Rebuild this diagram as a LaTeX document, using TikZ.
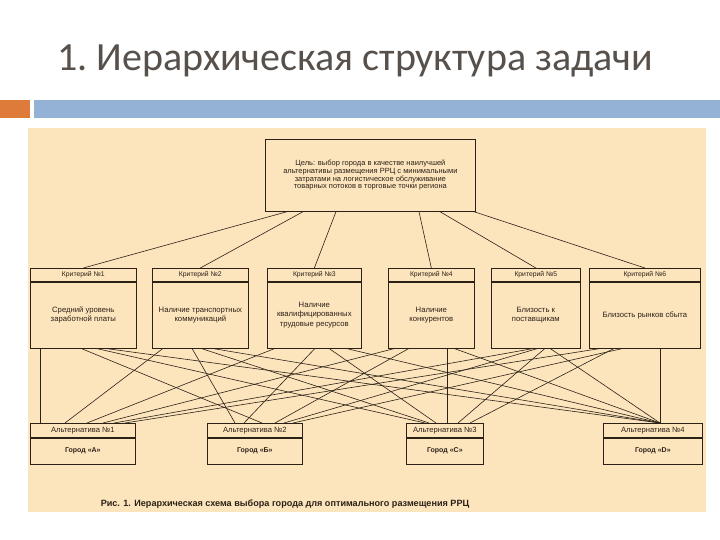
\documentclass[tikz,border=0pt]{standalone}
\usepackage{fontspec}
\setmainfont{Carlito}
\newfontfamily\figfont{Liberation Sans}
\usetikzlibrary{positioning,calc}
\definecolor{paper}{HTML}{FCE4BD}
\definecolor{ink}{HTML}{2B2117}
\definecolor{headgray}{HTML}{57504B}
\definecolor{barorange}{HTML}{DE7B3A}
\definecolor{barblue}{HTML}{94B2D6}
\tikzset{
  box/.style={draw=ink,fill=paper,line width=.7pt,inner sep=1pt,align=center,
    text=ink,font=\figfont\fontsize{6.8}{8}\selectfont},
  head/.style={box,anchor=north west},
  critbody/.style={box,minimum height=66pt,font=\figfont\fontsize{7.7}{9.2}\selectfont},
  altbody/.style={box,minimum height=26pt,font=\figfont\bfseries\fontsize{7}{8.6}\selectfont},
  link/.style={ink,line width=.6pt}
}

\begin{document}
\begin{tikzpicture}[x=1pt,y=-1pt]
  \useasboundingbox (0,0) rectangle (720,540);
  \fill[white] (0,0) rectangle (720,540);

  % title and bar
  \node[anchor=base west,text=headgray,font=\fontsize{40}{44}\selectfont\frenchspacing,inner sep=0pt]
    (title) at (57,71) {1. Иерархическая структура задачи};
  \fill[barorange] (0,100) rectangle (30,118);
  \fill[barblue] (34,100) rectangle (720,118);

  % figure
  \fill[paper] (28,128) rectangle (706,512);

  \node[box,anchor=north west,minimum width=210pt,minimum height=72pt,
    font=\figfont\fontsize{7.5}{7.7}\selectfont] (goal) at (265,139)
    {Цель: выбор города в качестве наилучшей\\
     альтернативы размещения РРЦ с минимальными\\
     затратами на логистическое обслуживание\\
     товарных потоков в торговые точки региона};

  \foreach \n/\x/\w/\txt in {
    1/30/106/{Средний уровень\\заработной платы},
    2/152/96/{Наличие транспортных\\коммуникаций},
    3/267/94/{Наличие\\квалифицированных\\трудовые ресурсов},
    4/388/86/{Наличие\\конкурентов},
    5/491/89/{Близость к\\поставщикам},
    6/589/111/{Близость рынков сбыта}}
    {\node[head,minimum width=\w pt,minimum height=13pt] (c\n h) at (\x,268)
       {Критерий №\n};
     \node[critbody,minimum width=\w pt,below=0pt of c\n h] (c\n) {\txt};}

  \foreach \n/\x/\w/\city in {
    1/30/105/А,
    2/207/95/Б,
    3/406/77/С,
    4/603/99/D}
    {\node[head,minimum width=\w pt,minimum height=14pt,
       font=\figfont\fontsize{7.6}{8}\selectfont] (a\n h) at (\x,423)
       {Альтернатива №\n};
     \node[altbody,minimum width=\w pt,below=0pt of a\n h] (a\n) {Город «\city»};}

  % goal -> criteria
  \foreach \n/\f in {1/22,2/38,3/71,4/154,5/175,6/209}
    \draw[link] ($(goal.south west)+(\f,0)$) -- (c\n h.north);

  % criteria -> alternatives
  \foreach \c/\s/\a/\e in {
    1/10/1/10, 1/51/2/55, 1/66/3/19, 1/75/4/57,
    2/11/1/35, 2/40/2/28, 2/49/3/23, 2/60/4/57,
    3/8/1/57,  3/48/2/37, 3/62/3/30, 3/79/4/57,
    4/7/1/73,  4/21/2/68, 4/59/3/41, 4/66/4/57,
    5/43/1/84, 5/47/2/77, 5/54/3/52, 5/59/4/57,
    6/12/1/95, 6/34/2/86, 6/25/3/64, 6/71/4/57}
    \draw[link] ($(c\c.south west)+(\s,0)$) -- ($(a\a h.north west)+(\e,0)$);

  \node[text=ink,font=\figfont\bfseries\fontsize{9.1}{10}\selectfont] (caption) at (285,504)
    {Рис. 1. Иерархическая схема выбора города для оптимального размещения РРЦ};
\end{tikzpicture}
\end{document}
